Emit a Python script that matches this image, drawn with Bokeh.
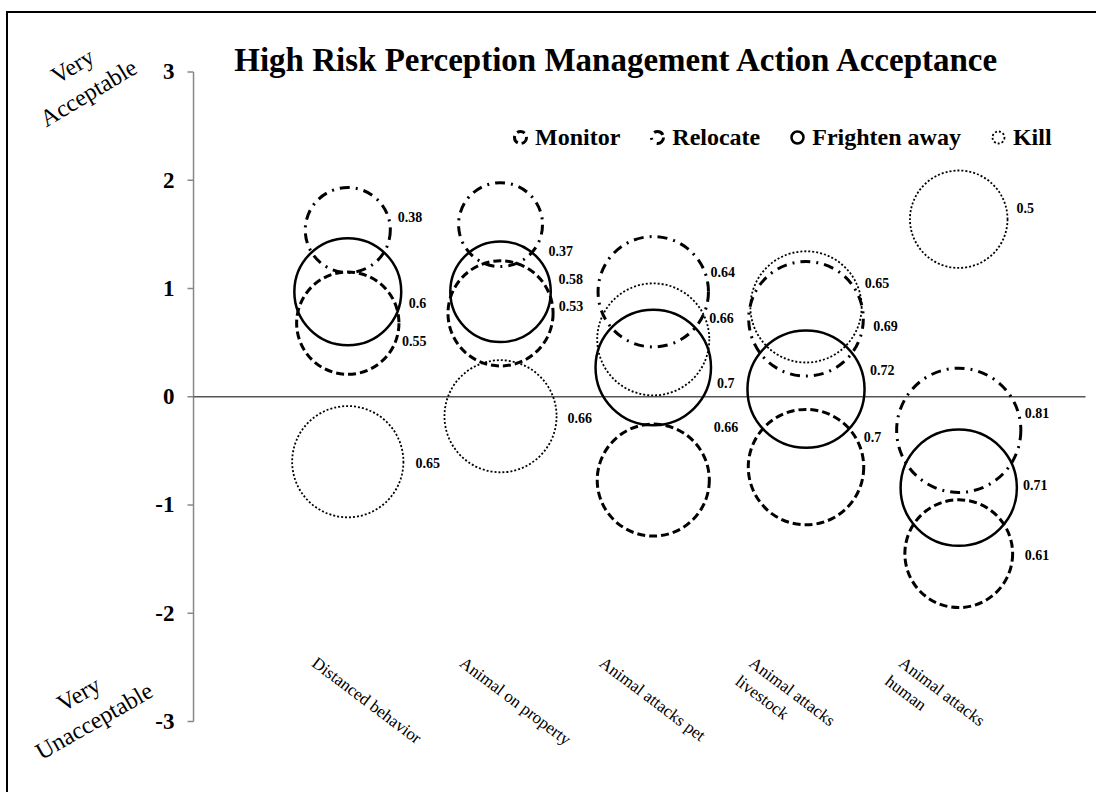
import numpy as np
from bokeh.plotting import figure
from bokeh.models import ColumnDataSource, Legend, LegendItem, Range1d
from bokeh.core.properties import value
from bokeh.embed import file_html
from bokeh.resources import INLINE

# ---------------- data ----------------
categories = ["Distanced behavior", "Animal on property", "Animal attacks pet",
              "Animal attacks\nlivestock", "Animal attacks\nhuman"]
series_names = ["Monitor", "Relocate", "Frighten away", "Kill"]

monitor_mean = [0.68, 0.77, -0.77, -0.65, -1.45]
monitor_sd = [0.55, 0.58, 0.66, 0.70, 0.61]
relocate_mean = [1.54, 1.59, 0.97, 0.72, -0.31]
relocate_sd = [0.38, 0.37, 0.64, 0.69, 0.81]
frighten_mean = [0.97, 0.97, 0.27, 0.07, -0.84]
frighten_sd = [0.60, 0.53, 0.70, 0.72, 0.71]
kill_mean = [-0.60, -0.18, 0.53, 0.83, 1.64]
kill_sd = [0.65, 0.66, 0.66, 0.65, 0.50]

y_ticks = [-3, -2, -1, 0, 1, 2, 3]
y_tick_labels = ["-3", "-2", "-1", "0", "1", "2", "3"]
title_text = "High Risk Perception Management Action Acceptance"
end_labels = ["Very\nAcceptable", "Very\nUnacceptable"]

# ---------------- layout / styles ----------------
SERIF = "Liberation Serif"
BUBBLE = 138.0          # diameter (px) of a bubble whose value is 1 (area ~ value)
X_RANGE = (-1.2214, 5.915)
Y_RANGE = (-3.6744, 3.5404)
AXIS_X = -0.01          # where the value axis stands
ZERO_END = 5.83         # right end of the zero line

styles = {
    "Monitor": dict(line_dash="8 4", line_width=3.0),
    "Relocate": dict(line_dash="10 6 2 6", line_width=3.0),
    "Frighten away": dict(line_dash="solid", line_width=2.5),
    "Kill": dict(line_dash="2 2", line_width=1.8),
}
label_dx = {
    "Monitor": [3, 5.5, 4.5, 0, 12],
    "Relocate": [7.5, 6, 2, 10, 4],
    "Frighten away": [7.5, 8, 6, 5.5, 6],
    "Kill": [12, 11, 0, 3, 9],
}
label_dy = {
    "Monitor": [18, -34, -53, -30, 1.5],
    "Relocate": [-13, 26.5, -19.5, 7.5, -17.5],
    "Frighten away": [11.5, 14.5, 15, -19, -2.5],
    "Kill": [1, 1.5, -21, -24, -11.5],
}
cat_dx = [-28, -33, -46, -49, -52]
CAT_Y = -2.37

means = {"Monitor": monitor_mean, "Relocate": relocate_mean,
         "Frighten away": frighten_mean, "Kill": kill_mean}
sds = {"Monitor": monitor_sd, "Relocate": relocate_sd,
       "Frighten away": frighten_sd, "Kill": kill_sd}

xs = list(range(1, len(categories) + 1))

p = figure(width=1090, height=781, output_backend="svg", toolbar_location=None,
           x_range=Range1d(*X_RANGE), y_range=Range1d(*Y_RANGE),
           x_axis_location=None, y_axis_location=None,
           min_border_left=0, min_border_right=0, min_border_top=0, min_border_bottom=0)
p.margin = (11, 0, 0, 6)
p.styles = {"border-top": "2px solid black", "border-left": "2px solid black"}
p.outline_line_color = None
p.xgrid.visible = False
p.ygrid.visible = False
p.background_fill_color = "white"

# ---- value axis (line, ticks, labels) ----
p.segment(x0=[AXIS_X], y0=[min(y_ticks)], x1=[AXIS_X], y1=[max(y_ticks)],
          line_color="#888888", line_width=1.5)
p.ray(x=[AXIS_X] * len(y_ticks), y=y_ticks, length=6, length_units="screen",
      angle=np.pi, line_color="#888888", line_width=1.5)
p.text(x=[AXIS_X] * len(y_ticks), y=y_ticks, text=y_tick_labels, x_offset=-19,
       text_align="right", text_baseline="middle", text_font=value(SERIF),
       text_font_style="bold", text_font_size="23px", text_color="black")

# zero line
p.segment(x0=[AXIS_X], y0=[0], x1=[ZERO_END], y1=[0], line_color="#555555", line_width=1.5)

renderers = {}
for name in series_names:
    m = means[name]
    s = sds[name]
    size = [BUBBLE * np.sqrt(v) for v in s]
    src = ColumnDataSource(dict(x=xs, y=m, size=size))
    r = p.scatter(x="x", y="y", size="size", source=src, marker="circle",
                  fill_color=None, line_color="black", **styles[name])
    renderers[name] = r
    lab = ColumnDataSource(dict(
        x=xs, y=m, text=[f"{v:g}" for v in s],
        xo=[sz / 2 + d for sz, d in zip(size, label_dx[name])],
        yo=label_dy[name]))
    p.text(x="x", y="y", text="text", x_offset="xo", y_offset="yo", source=lab,
           text_font=value(SERIF), text_font_style="bold", text_font_size="14px",
           text_align="left", text_baseline="middle", text_color="black")

# category labels
p.text(x=xs, y=[CAT_Y] * len(xs), text=categories, x_offset=cat_dx,
       angle=-0.645, text_align="left", text_baseline="top",
       text_font=value(SERIF), text_font_size="17px", text_color="black")

# title
p.text(x=[2.766], y=[3.114], text=[title_text], text_align="center",
       text_baseline="alphabetic", text_font=value(SERIF), text_font_style="bold",
       text_font_size="33px", text_color="black")

# scale end labels
p.text(x=[-0.750, -0.711], y=[2.931, -2.871], text=end_labels, angle=[0.54, 0.52],
       text_align="center", text_baseline="middle",
       text_font=value(SERIF), text_font_size="24px", text_color="black")

legend = Legend(items=[LegendItem(label=n, renderers=[renderers[n]]) for n in series_names],
                orientation="horizontal", location=(497, 642),
                glyph_width=30, glyph_height=30, label_standoff=0, spacing=22,
                padding=0, margin=0, border_line_alpha=0, background_fill_alpha=0,
                label_text_font=SERIF, label_text_font_style="bold",
                label_text_font_size="24px", label_text_color="black")
p.add_layout(legend)

open("out.html", "w").write(file_html(p, INLINE))
